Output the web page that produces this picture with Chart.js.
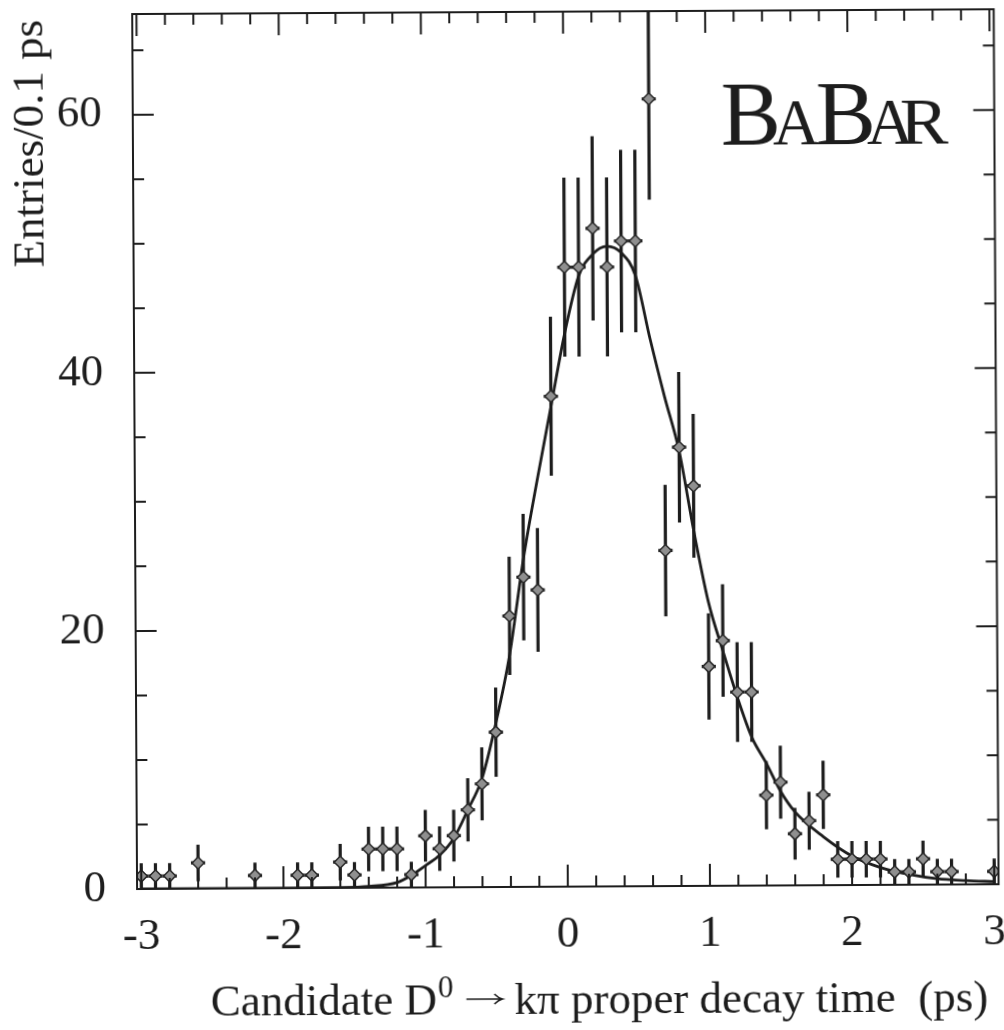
<!DOCTYPE html>
<html>
<head>
<meta charset="utf-8">
<script src="https://cdn.jsdelivr.net/npm/chart.js@4.4.1/dist/chart.umd.min.js"></script>
<style>
  html, body { margin: 0; padding: 0; background: #fff; }
  #decayChart { display: block; transform: rotate(-0.32deg); }
</style>
</head>
<body>
<canvas id="decayChart" width="1004" height="1030"></canvas>
<script>
// D0 -> K pi candidates per 0.1 ps bin (empty bins left out)
const decayTimes = [-3.0, -2.9, -2.8, -2.6, -2.2, -1.9, -1.8, -1.6, -1.5,
    -1.4, -1.3, -1.2, -1.1, -1.0, -0.9, -0.8, -0.7, -0.6, -0.5, -0.4, -0.3, -0.2, -0.1,
    0.0, 0.1, 0.2, 0.3, 0.4, 0.5, 0.6, 0.7, 0.8, 0.9, 1.0, 1.1, 1.2, 1.3, 1.4,
    1.5, 1.6, 1.7, 1.8, 1.9, 2.0, 2.1, 2.2, 2.3, 2.4, 2.5, 2.6, 2.7, 3.0];
const entries = [1, 1, 1, 2, 1, 1, 1, 2, 1,
    3, 3, 3, 1, 4, 3, 4, 6, 8, 12, 21, 24, 23, 38,
    48, 48, 51, 48, 50, 50, 61, 26, 34, 31, 17, 19, 15, 15, 7,
    8, 4, 5, 7, 2, 2, 2, 2, 1, 1, 2, 1, 1, 1];
const entryErrors = [1, 1, 1, 1.41, 1, 1, 1, 1.41, 1,
    1.73, 1.73, 1.73, 1, 2, 1.73, 2, 2.45, 2.83, 3.46, 4.58, 4.9, 4.8, 6.16,
    6.93, 6.93, 7.14, 6.93, 7.07, 7.07, 7.81, 5.1, 5.83, 5.57, 4.12, 4.36, 3.87, 3.87, 2.65,
    2.83, 2, 2.24, 2.65, 1.41, 1.41, 1.41, 1.41, 1, 1, 1.41, 1, 1, 1];
const binHalfWidth = 0.05;

// fitted lifetime curve
const fitTimes = [-3.0, -2.0, -1.6, -1.4, -1.2, -1.1, -1.0, -0.9, -0.8, -0.7, -0.6, -0.5,
    -0.4, -0.3, -0.2, -0.1, 0.0, 0.1, 0.2, 0.3, 0.4, 0.5, 0.6, 0.7, 0.8, 0.9,
    1.0, 1.1, 1.2, 1.3, 1.4, 1.5, 1.6, 1.8, 2.0, 2.2, 2.4, 2.6, 2.8, 3.0];
const fitValues = [0, 0, 0.02, 0.1, 0.4, 0.95, 1.7, 2.5, 3.8, 6.0, 8.4, 12.7,
    18.0, 25.4, 31.5, 37.2, 42.9, 47.3, 49.0, 49.6, 49.1, 47.3, 42.4, 37.9, 33.7, 27.5,
    22.0, 18.2, 14.6, 11.5, 9.5, 7.3, 5.7, 3.75, 2.25, 1.35, 0.8, 0.45, 0.3, 0.2];

const xTickValues = [-3, -2, -1, 0, 1, 2, 3];
const yTickValues = [0, 20, 40, 60];

const ink = '#1d1d1d';
const serif = "'Liberation Serif', 'Times New Roman', serif";

Chart.defaults.font.family = serif;
Chart.defaults.color = ink;

const points = decayTimes.map((t, i) => ({ x: t, y: entries[i] }));
const fitPoints = fitTimes.map((t, i) => ({ x: t, y: fitValues[i] }));

// frame, inward ticks, error bars and the text that chart.js can't lay out
const framePlugin = {
    id: 'framePlugin',
    beforeDatasetsDraw(chart) {
        const { ctx, chartArea: area, scales: { x, y } } = chart;
        ctx.save();
        ctx.beginPath();
        ctx.rect(area.left, area.top, area.right - area.left, area.bottom - area.top);
        ctx.clip();
        ctx.strokeStyle = ink;
        ctx.lineWidth = 3.2;
        decayTimes.forEach((t, i) => {
            const px = x.getPixelForValue(t);
            const py = y.getPixelForValue(entries[i]);
            ctx.beginPath();
            ctx.moveTo(px, y.getPixelForValue(entries[i] - entryErrors[i]));
            ctx.lineTo(px, y.getPixelForValue(entries[i] + entryErrors[i]));
            ctx.moveTo(x.getPixelForValue(t - binHalfWidth), py);
            ctx.lineTo(x.getPixelForValue(t + binHalfWidth), py);
            ctx.stroke();
        });
        ctx.restore();
    },
    afterDraw(chart) {
        const { ctx, chartArea: area, scales: { x, y } } = chart;
        ctx.save();
        ctx.strokeStyle = ink;
        ctx.lineWidth = 2;
        ctx.strokeRect(area.left, area.top, area.right - area.left, area.bottom - area.top);

        ctx.beginPath();
        for (let i = -15; i <= 15; i++) {
            const px = x.getPixelForValue(i / 5);
            const len = i % 5 === 0 ? 22 : 11;
            ctx.moveTo(px, area.bottom);
            ctx.lineTo(px, area.bottom - len);
            ctx.moveTo(px, area.top);
            ctx.lineTo(px, area.top + len);
        }
        for (let v = 0; v <= 65; v += 5) {
            const py = y.getPixelForValue(v);
            const len = v % 20 === 0 ? 21 : 11;
            ctx.moveTo(area.left, py);
            ctx.lineTo(area.left + len, py);
            ctx.moveTo(area.right, py);
            ctx.lineTo(area.right - len, py);
        }
        ctx.stroke();

        ctx.fillStyle = ink;
        ctx.textBaseline = 'alphabetic';

        // x axis title: D0 superscript and a long arrow
        let tx = 208;
        const ty = 1014;
        ctx.font = `45px ${serif}`;
        ctx.fillText('Candidate D', tx, ty);
        tx += ctx.measureText('Candidate D').width;
        ctx.font = `31px ${serif}`;
        ctx.fillText('0', tx + 1, ty - 17);
        tx += ctx.measureText('0').width + 1;

        const ax0 = tx + 13, ax1 = ax0 + 36, ay = ty - 15;
        ctx.lineWidth = 1.6;
        ctx.beginPath();
        ctx.moveTo(ax0, ay);
        ctx.lineTo(ax1, ay);
        ctx.moveTo(ax1 - 8, ay - 5);
        ctx.quadraticCurveTo(ax1 - 4, ay - 1, ax1, ay);
        ctx.quadraticCurveTo(ax1 - 4, ay + 1, ax1 - 8, ay + 5);
        ctx.stroke();

        ctx.font = `45px ${serif}`;
        ctx.fillText('k\u03c0 proper decay time  (ps)', ax1 + 12, ty);

        // y axis title
        ctx.save();
        ctx.translate(45, 141);
        ctx.rotate(-Math.PI / 2);
        ctx.textAlign = 'center';
        ctx.fillText('Entries/0.1 ps', 0, 0);
        ctx.restore();

        // experiment logo, small caps
        const logo = [['B', 90, 723, 1], ['A', 65, 775, 1], ['B', 90, 818, 1], ['A', 65, 869, 1], ['R', 65, 902, 1.12]];
        logo.forEach(([ch, size, lx, stretch]) => {
            ctx.save();
            ctx.translate(lx, 146);
            ctx.scale(stretch, 1);
            ctx.font = `${size}px ${serif}`;
            ctx.fillText(ch, 0, 0);
            ctx.restore();
        });
        ctx.restore();
    }
};

new Chart(document.getElementById('decayChart'), {
    type: 'scatter',
    data: {
        datasets: [
            {
                type: 'line',
                data: fitPoints,
                borderColor: ink,
                borderWidth: 2.8,
                pointRadius: 0,
                cubicInterpolationMode: 'monotone',
                fill: false,
                order: 2
            },
            {
                data: points,
                pointStyle: 'rectRot',
                pointRadius: 6,
                backgroundColor: '#8f8f8f',
                borderColor: '#262626',
                borderWidth: 1.5,
                order: 1
            }
        ]
    },
    options: {
        responsive: false,
        devicePixelRatio: 1,
        animation: false,
        layout: { padding: { top: 12, right: 7, left: 0, bottom: 0 } },
        plugins: { legend: { display: false }, tooltip: { enabled: false } },
        scales: {
            x: {
                type: 'linear',
                min: -3.03,
                max: 3.03,
                grid: { display: false, drawTicks: false },
                border: { display: false },
                ticks: { font: { size: 45 }, padding: 21, maxRotation: 0, autoSkip: false },
                afterBuildTicks: (scale) => { scale.ticks = xTickValues.map(v => ({ value: v })); },
                afterFit: (scale) => { scale.height = 143; scale.paddingLeft = 0; scale.paddingRight = 0; }
            },
            y: {
                type: 'linear',
                min: 0,
                max: 67.8,
                grid: { display: false, drawTicks: false },
                border: { display: false },
                ticks: { font: { size: 45 }, padding: 31 },
                afterBuildTicks: (scale) => { scale.ticks = yTickValues.map(v => ({ value: v })); },
                afterFit: (scale) => { scale.width = 135; scale.paddingTop = 0; scale.paddingBottom = 0; }
            }
        }
    },
    plugins: [framePlugin]
});
</script>
</body>
</html>
